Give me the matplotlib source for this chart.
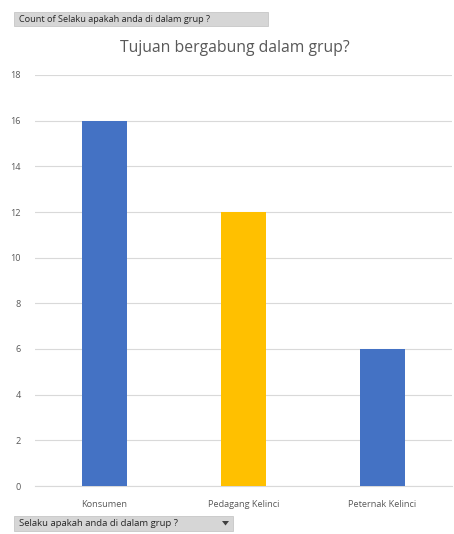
import matplotlib
matplotlib.use("Agg")
import matplotlib.pyplot as plt
from matplotlib.patches import Rectangle, Polygon
import numpy as np

categories = ["Konsumen", "Pedagang Kelinci", "Peternak Kelinci"]
values = [16, 12, 6]
bar_colors = ["#4472C4", "#FFC000", "#4472C4"]
yticks = [0, 2, 4, 6, 8, 10, 12, 14, 16, 18]
title = "Tujuan bergabung dalam grup?"
top_button = "Count of Selaku apakah anda di dalam grup ?"
bottom_button = "Selaku apakah anda di dalam grup ?"

plt.rcParams['font.family'] = ['Open Sans', 'DejaVu Sans']

W, H = 454, 534
fig = plt.figure(figsize=(W/100, H/100), dpi=100)
fig.patch.set_facecolor("white")

def fx(px): return px / W
def fy(py): return 1 - py / H

ax = fig.add_axes([fx(35), fy(486), fx(452) - fx(35), fy(75) - fy(486)])
x = np.arange(len(categories))
ax.bar(x, values, width=0.32, color=bar_colors, zorder=3)
ax.set_xlim(-0.5, len(categories) - 0.5)
ax.set_ylim(0, 18)
ax.set_yticks(yticks)
ax.set_yticklabels([str(t) for t in yticks], fontsize=6.6, color="#595959")
ax.set_xticks(x)
ax.set_xticklabels(categories, fontsize=6.6, color="#595959")
ax.tick_params(axis="y", length=0, pad=10)
ax.tick_params(axis="x", length=0, pad=10)
ax.grid(axis="y", color="#D9D9D9", linewidth=0.8, zorder=0)
for s in ["top", "right", "left"]:
    ax.spines[s].set_visible(False)
ax.spines["bottom"].set_color("#D9D9D9")
ax.spines["bottom"].set_linewidth(0.8)

fig.text(fx(235), fy(48), title, ha="center", va="center", fontsize=11.3, color="#595959")

# top field button
fig.patches.append(Rectangle((fx(14), fy(26)), fx(268) - fx(14), fy(12) - fy(26),
                             transform=fig.transFigure, facecolor="#D6D6D6",
                             edgecolor="#BFBFBF", linewidth=0.5))
fig.text(fx(19), fy(19), top_button, ha="left", va="center", fontsize=6.6, color="#262626")

# bottom field button
fig.patches.append(Rectangle((fx(14), fy(531)), fx(233) - fx(14), fy(516) - fy(531),
                             transform=fig.transFigure, facecolor="#D6D6D6",
                             edgecolor="#BFBFBF", linewidth=0.5))
fig.text(fx(19), fy(523.5), bottom_button, ha="left", va="center", fontsize=6.8, color="#262626")
fig.patches.append(Polygon([[fx(222), fy(521)], [fx(229), fy(521)], [fx(225.5), fy(525.5)]],
                           closed=True, transform=fig.transFigure, facecolor="#404040",
                           edgecolor="none"))

fig.savefig("out.png", dpi=100)
